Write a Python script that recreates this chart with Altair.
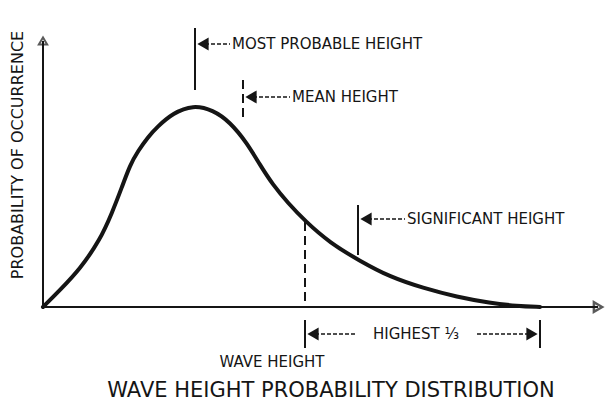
import altair as alt
import pandas as pd

# ---- data (wave height / probability, arbitrary units) ----
curve_x = [0.00, 0.17, 0.37, 0.57, 0.69, 0.79, 0.87, 0.95, 1.05, 1.14, 1.30, 1.50, 1.70,
           1.87, 2.04, 2.17, 2.30, 2.45, 2.62, 2.87, 3.17, 3.47, 3.80, 4.14, 4.47, 4.74, 4.97]
curve_y = [0.00, 0.17, 0.38, 0.67, 0.94, 1.20, 1.42, 1.56, 1.70, 1.80, 1.94, 2.02, 1.97,
           1.85, 1.64, 1.42, 1.22, 1.04, 0.86, 0.64, 0.46, 0.30, 0.19, 0.10, 0.04, 0.01, 0.00]

mode_height = 1.52
mean_height = 2.00
third_threshold = 2.62
significant_height = 3.15
highest_end = 4.97

label_mode = "MOST PROBABLE HEIGHT"
label_mean = "MEAN HEIGHT"
label_sig = "SIGNIFICANT HEIGHT"
label_third = "HIGHEST ⅓"
x_title = "WAVE HEIGHT"
y_title = "PROBABILITY OF OCCURRENCE"
chart_title = "WAVE  HEIGHT  PROBABILITY  DISTRIBUTION"

INK = "#151515"
FONT = "DejaVu Sans"

xs = alt.Scale(domain=[-0.35, 5.62], nice=False, zero=False)
ys = alt.Scale(domain=[-0.96, 2.99], nice=False, zero=False)


def X(f="x"):
    return alt.X(f, type="quantitative", scale=xs, axis=None)


def Y(f="y"):
    return alt.Y(f, type="quantitative", scale=ys, axis=None)


curve_df = pd.DataFrame({"x": curve_x, "y": curve_y})
curve = alt.Chart(curve_df).mark_line(
    color=INK, strokeWidth=4, interpolate="basis", strokeCap="round"
).encode(x=X(), y=Y())

# axes
axes_df = pd.DataFrame({"x": [0.0, 0.0], "x2": [0.0, 5.55], "y": [0.0, 0.0], "y2": [2.66, 0.0]})
axes = alt.Chart(axes_df).mark_rule(color=INK, strokeWidth=2).encode(
    x=X(), x2=alt.X2("x2"), y=Y(), y2=alt.Y2("y2"))
up_head = alt.Chart(pd.DataFrame({"x": [0.0], "y": [2.66]})).mark_point(
    shape="triangle-up", filled=False, color=INK, strokeWidth=2, size=70
).encode(x=X(), y=Y())
right_head = alt.Chart(pd.DataFrame({"x": [5.55], "y": [0.0]})).mark_point(
    shape="triangle-right", filled=False, color=INK, strokeWidth=2.5, size=90
).encode(x=X(), y=Y())

# marker verticals
solid_df = pd.DataFrame({
    "x": [mode_height, significant_height, third_threshold, highest_end],
    "y": [2.79, 1.02, -0.13, -0.13],
    "y2": [2.17, 0.52, -0.41, -0.41],
})
solid_v = alt.Chart(solid_df).mark_rule(color=INK, strokeWidth=2).encode(
    x=X(), y=Y(), y2=alt.Y2("y2"))
dashed_df = pd.DataFrame({
    "x": [mean_height, third_threshold],
    "y": [2.27, 0.85],
    "y2": [1.87, 0.0],
})
dashed_v = alt.Chart(dashed_df).mark_rule(color=INK, strokeWidth=2, strokeDash=[9, 5]).encode(
    x=X(), y=Y(), y2=alt.Y2("y2"))

# arrow shafts
shaft_df = pd.DataFrame({
    "x": [mode_height + 0.04, mean_height + 0.04, significant_height + 0.04, third_threshold + 0.04, 4.34],
    "x2": [1.87, 2.47, 3.62, 3.12, highest_end - 0.04],
    "y": [2.63, 2.10, 0.88, -0.27, -0.27],
})
shafts = alt.Chart(shaft_df).mark_rule(color=INK, strokeWidth=1.6, strokeDash=[4, 2]).encode(
    x=X(), x2=alt.X2("x2"), y=Y())

left_heads = alt.Chart(pd.DataFrame({
    "x": [mode_height + 0.08, mean_height + 0.08, significant_height + 0.08, third_threshold + 0.08],
    "y": [2.63, 2.10, 0.88, -0.27],
})).mark_point(shape="triangle-left", filled=True, color=INK, size=170, opacity=1).encode(x=X(), y=Y())
right_heads = alt.Chart(pd.DataFrame({"x": [highest_end - 0.08], "y": [-0.27]})).mark_point(
    shape="triangle-right", filled=True, color=INK, size=170, opacity=1).encode(x=X(), y=Y())

# texts
left_txt = alt.Chart(pd.DataFrame({
    "x": [1.89, 2.49, 3.64],
    "y": [2.63, 2.10, 0.88],
    "t": [label_mode, label_mean, label_sig],
})).mark_text(align="left", baseline="middle", font=FONT, fontSize=15, color=INK).encode(
    x=X(), y=Y(), text="t:N")
center_txt = alt.Chart(pd.DataFrame({
    "x": [3.73, 2.29],
    "y": [-0.27, -0.55],
    "t": [label_third, x_title],
})).mark_text(align="center", baseline="middle", font=FONT, fontSize=15, color=INK).encode(
    x=X(), y=Y(), text="t:N")
title_txt = alt.Chart(pd.DataFrame({"x": [2.88], "y": [-0.90], "t": [chart_title]})).mark_text(
    align="center", baseline="alphabetic", font=FONT, fontSize=21, color=INK).encode(
    x=X(), y=Y(), text="t:N")
ylab = alt.Chart(pd.DataFrame({"x": [-0.25], "y": [1.52], "t": [y_title]})).mark_text(
    align="center", baseline="middle", font=FONT, fontSize=16, color=INK, angle=270).encode(
    x=X(), y=Y(), text="t:N")

chart = alt.layer(
    axes, up_head, right_head, dashed_v, solid_v, shafts, left_heads, right_heads,
    curve, left_txt, center_txt, title_txt, ylab
).properties(
    width=597, height=395, padding=0, autosize=alt.AutoSizeParams(type="none"),
    background="white"
).configure_view(stroke=None)

chart.save("out.html", embed_options={"renderer": "svg", "actions": False})
